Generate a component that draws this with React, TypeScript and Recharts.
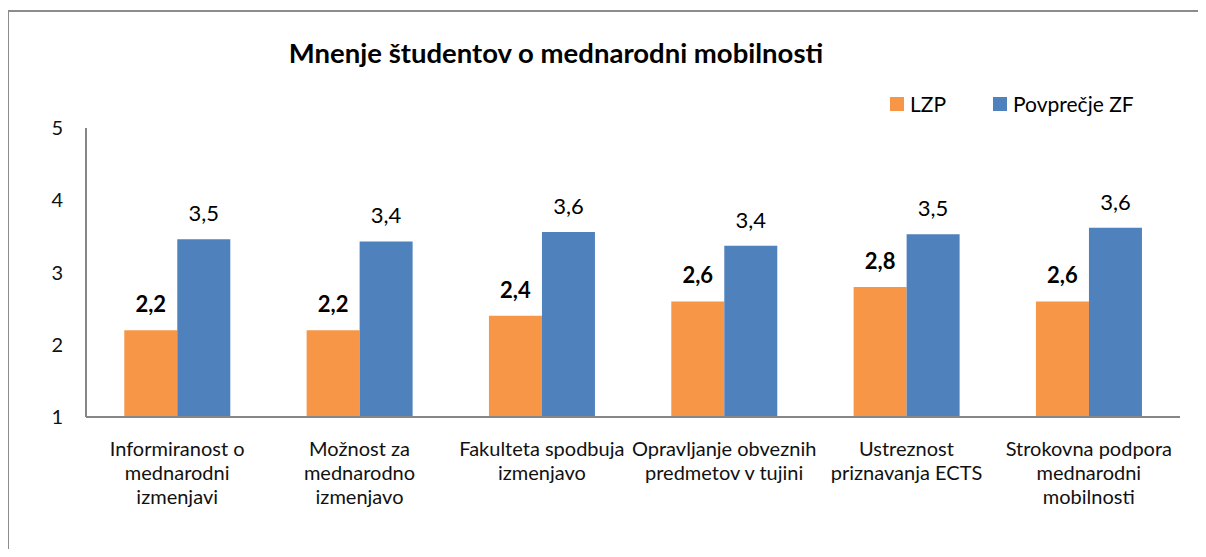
import React from "react";
import { BarChart, Bar, XAxis, YAxis, LabelList } from "recharts";

const categories = [
  "Informiranost o\nmednarodni\nizmenjavi",
  "Možnost za\nmednarodno\nizmenjavo",
  "Fakulteta spodbuja\nizmenjavo",
  "Opravljanje obveznih\npredmetov v tujini",
  "Ustreznost\npriznavanja ECTS",
  "Strokovna podpora\nmednarodni\nmobilnosti",
];
const lzpValues = [2.2, 2.2, 2.4, 2.6, 2.8, 2.6];
const zfValues = [3.46, 3.43, 3.56, 3.37, 3.53, 3.62];
const yTicks = [1, 2, 3, 4, 5];
const seriesNames = ["LZP", "Povprečje ZF"];
const title = "Mnenje študentov o mednarodni mobilnosti";

const data = categories.map((c, i) => ({ name: c, lzp: lzpValues[i], zf: zfValues[i] }));

const ORANGE = "#F79646";
const BLUE = "#4F81BD";
const FONT = "Lato, 'Open Sans', sans-serif";

const fmt = (v: any) => Number(v).toFixed(1).replace(".", ",");

const CatTick = (props: any) => {
  const { x, y, payload } = props;
  const lines = String(payload.value).split("\n");
  return (
    <g transform={`translate(${x},${y})`}>
      {lines.map((l: string, i: number) => (
        <text key={i} x={0} y={31 + i * 24} textAnchor="middle" fontSize={20} fill="#111" fontFamily={FONT}>
          {l}
        </text>
      ))}
    </g>
  );
};

export default function App() {
  return (
    <div style={{ position: "relative", width: 1206, height: 557, margin: -8, background: "#fff", overflow: "hidden" }}>
      <div style={{ position: "absolute", left: 7, top: 10, width: 1199, height: 2, background: "#8c8c8c" }} />
      <div style={{ position: "absolute", left: 7, top: 10, width: 2, height: 547, background: "#8c8c8c" }} />
      <div
        style={{
          position: "absolute",
          left: 0,
          width: 1112,
          top: 36,
          textAlign: "center",
          fontFamily: FONT,
          fontWeight: "bold",
          fontSize: 27.5,
          color: "#000",
        }}
      >
        {title}
      </div>
      <div
        style={{
          position: "absolute",
          left: 890,
          top: 91,
          display: "flex",
          alignItems: "center",
          fontFamily: FONT,
          fontSize: 21,
          color: "#000",
          whiteSpace: "nowrap",
        }}
      >
        <span style={{ width: 14, height: 14, background: ORANGE, display: "inline-block", marginRight: 6 }} />
        <span style={{ marginRight: 47 }}>{seriesNames[0]}</span>
        <span style={{ width: 14, height: 14, background: BLUE, display: "inline-block", marginRight: 6 }} />
        <span>{seriesNames[1]}</span>
      </div>
      <div style={{ position: "absolute", top: 0, left: 0 }}>
        <BarChart
          width={1206}
          height={557}
          data={data}
          margin={{ top: 128, right: 26, bottom: 40, left: 26 }}
          barCategoryGap="21%"
          barGap={0}
        >
          <YAxis
            domain={[1, 5]}
            ticks={yTicks}
            width={60}
            axisLine={{ stroke: "#868686", strokeWidth: 2 }}
            tickLine={false}
            tick={{ fontSize: 20, fill: "#111", fontFamily: FONT }}
            tickMargin={17}
            interval={0}
          />
          <XAxis
            dataKey="name"
            height={100}
            axisLine={{ stroke: "#868686", strokeWidth: 2 }}
            tickLine={false}
            tick={<CatTick />}
            interval={0}
          />
          <Bar dataKey="lzp" name={seriesNames[0]} fill={ORANGE} isAnimationActive={false}>
            <LabelList
              dataKey="lzp"
              position="top"
              offset={18}
              formatter={fmt}
              style={{ fontSize: 22, fontWeight: "bold", fill: "#000", fontFamily: FONT }}
            />
          </Bar>
          <Bar dataKey="zf" name={seriesNames[1]} fill={BLUE} isAnimationActive={false}>
            <LabelList
              dataKey="zf"
              position="top"
              offset={18}
              formatter={fmt}
              style={{ fontSize: 22, fill: "#000", fontFamily: FONT }}
            />
          </Bar>
        </BarChart>
      </div>
    </div>
  );
}
